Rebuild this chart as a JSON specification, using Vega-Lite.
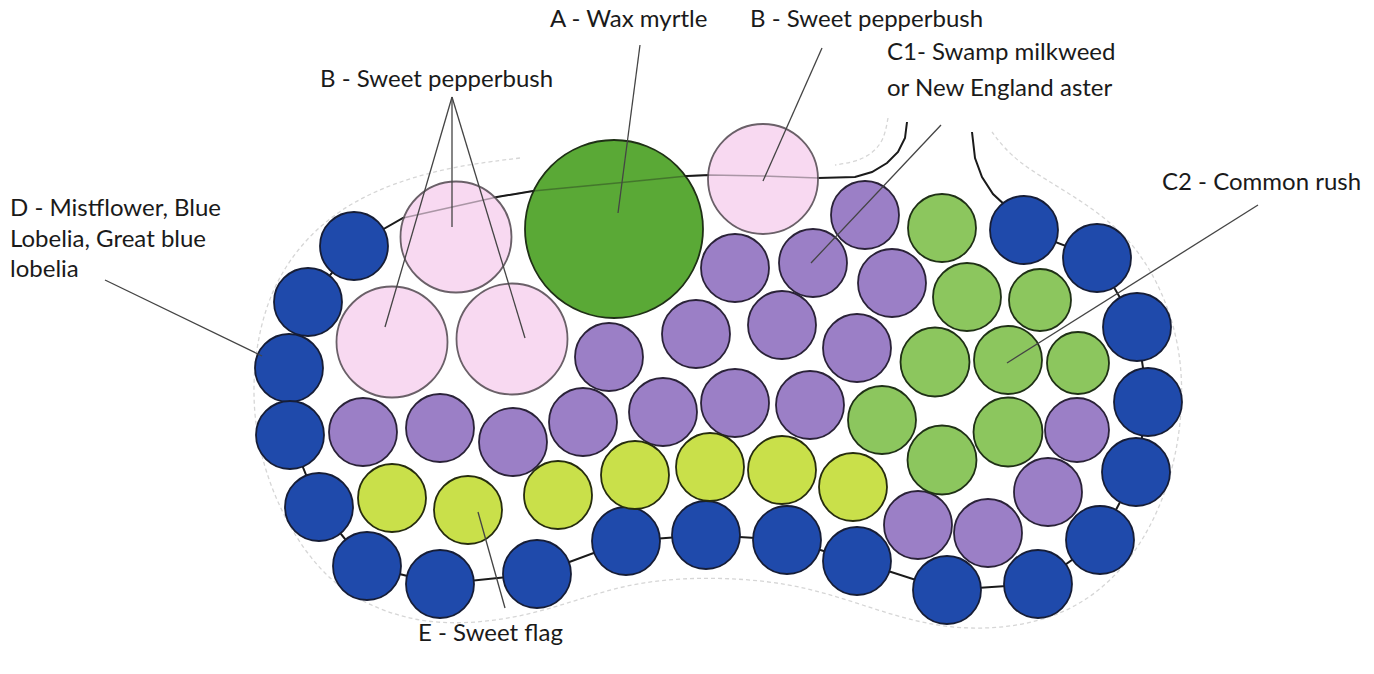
{
  "$schema": "https://vega.github.io/schema/vega-lite/v6.json",
  "width": 1374,
  "height": 674,
  "autosize": "none",
  "padding": 0,
  "background": "white",
  "config": {"view": {"stroke": null}},
  "datasets": {
    "circles": [
      {"x": 354, "y": 246, "d": 68, "plant": "D"},
      {"x": 308, "y": 302, "d": 68, "plant": "D"},
      {"x": 289, "y": 368, "d": 68, "plant": "D"},
      {"x": 290, "y": 435, "d": 68, "plant": "D"},
      {"x": 319, "y": 507, "d": 68, "plant": "D"},
      {"x": 367, "y": 566, "d": 68, "plant": "D"},
      {"x": 440, "y": 584, "d": 68, "plant": "D"},
      {"x": 537, "y": 574, "d": 68, "plant": "D"},
      {"x": 626, "y": 541, "d": 68, "plant": "D"},
      {"x": 706, "y": 535, "d": 68, "plant": "D"},
      {"x": 787, "y": 540, "d": 68, "plant": "D"},
      {"x": 857, "y": 561, "d": 68, "plant": "D"},
      {"x": 947, "y": 590, "d": 68, "plant": "D"},
      {"x": 1038, "y": 584, "d": 68, "plant": "D"},
      {"x": 1100, "y": 540, "d": 68, "plant": "D"},
      {"x": 1136, "y": 472, "d": 68, "plant": "D"},
      {"x": 1148, "y": 402, "d": 68, "plant": "D"},
      {"x": 1137, "y": 327, "d": 68, "plant": "D"},
      {"x": 1097, "y": 258, "d": 68, "plant": "D"},
      {"x": 1024, "y": 230, "d": 68, "plant": "D"},
      {"x": 456, "y": 237, "d": 111, "plant": "B"},
      {"x": 392, "y": 342, "d": 111, "plant": "B"},
      {"x": 512, "y": 339, "d": 111, "plant": "B"},
      {"x": 763, "y": 179, "d": 110, "plant": "B"},
      {"x": 614, "y": 229, "d": 178, "plant": "A"},
      {"x": 865, "y": 215, "d": 68, "plant": "C1"},
      {"x": 735, "y": 268, "d": 68, "plant": "C1"},
      {"x": 813, "y": 263, "d": 68, "plant": "C1"},
      {"x": 892, "y": 283, "d": 68, "plant": "C1"},
      {"x": 609, "y": 357, "d": 68, "plant": "C1"},
      {"x": 696, "y": 334, "d": 68, "plant": "C1"},
      {"x": 782, "y": 325, "d": 68, "plant": "C1"},
      {"x": 857, "y": 348, "d": 68, "plant": "C1"},
      {"x": 363, "y": 432, "d": 68, "plant": "C1"},
      {"x": 440, "y": 428, "d": 68, "plant": "C1"},
      {"x": 513, "y": 442, "d": 68, "plant": "C1"},
      {"x": 583, "y": 422, "d": 68, "plant": "C1"},
      {"x": 663, "y": 412, "d": 68, "plant": "C1"},
      {"x": 735, "y": 403, "d": 68, "plant": "C1"},
      {"x": 810, "y": 405, "d": 68, "plant": "C1"},
      {"x": 918, "y": 525, "d": 68, "plant": "C1"},
      {"x": 988, "y": 533, "d": 68, "plant": "C1"},
      {"x": 1048, "y": 492, "d": 68, "plant": "C1"},
      {"x": 1077, "y": 430, "d": 64, "plant": "C1"},
      {"x": 942, "y": 228, "d": 68, "plant": "C2"},
      {"x": 967, "y": 297, "d": 68, "plant": "C2"},
      {"x": 1040, "y": 300, "d": 62, "plant": "C2"},
      {"x": 935, "y": 362, "d": 69, "plant": "C2"},
      {"x": 1008, "y": 360, "d": 68, "plant": "C2"},
      {"x": 1078, "y": 363, "d": 62, "plant": "C2"},
      {"x": 882, "y": 420, "d": 68, "plant": "C2"},
      {"x": 942, "y": 460, "d": 69, "plant": "C2"},
      {"x": 1008, "y": 432, "d": 69, "plant": "C2"},
      {"x": 392, "y": 498, "d": 68, "plant": "E"},
      {"x": 468, "y": 510, "d": 68, "plant": "E"},
      {"x": 558, "y": 495, "d": 68, "plant": "E"},
      {"x": 635, "y": 475, "d": 68, "plant": "E"},
      {"x": 710, "y": 467, "d": 68, "plant": "E"},
      {"x": 782, "y": 470, "d": 68, "plant": "E"},
      {"x": 853, "y": 487, "d": 68, "plant": "E"}
    ],
    "outline": [
      {"i": 1, "x": 907, "y": 122, "seg": "hook"},
      {"i": 2, "x": 905, "y": 138, "seg": "hook"},
      {"i": 3, "x": 898, "y": 152, "seg": "hook"},
      {"i": 4, "x": 887, "y": 163, "seg": "hook"},
      {"i": 5, "x": 872, "y": 172, "seg": "hook"},
      {"i": 6, "x": 855, "y": 177, "seg": "hook"},
      {"i": 7, "x": 818, "y": 178, "seg": "top"},
      {"i": 8, "x": 763, "y": 176, "seg": "top"},
      {"i": 9, "x": 710, "y": 175, "seg": "top"},
      {"i": 10, "x": 687, "y": 176, "seg": "top"},
      {"i": 11, "x": 617, "y": 183, "seg": "top"},
      {"i": 12, "x": 533, "y": 191, "seg": "top"},
      {"i": 13, "x": 497, "y": 197, "seg": "top"},
      {"i": 14, "x": 403, "y": 218, "seg": "top"},
      {"i": 15, "x": 354, "y": 246, "seg": "ring"},
      {"i": 16, "x": 308, "y": 302, "seg": "ring"},
      {"i": 17, "x": 289, "y": 368, "seg": "ring"},
      {"i": 18, "x": 290, "y": 435, "seg": "ring"},
      {"i": 19, "x": 319, "y": 507, "seg": "ring"},
      {"i": 20, "x": 367, "y": 566, "seg": "ring"},
      {"i": 21, "x": 440, "y": 584, "seg": "ring"},
      {"i": 22, "x": 537, "y": 574, "seg": "ring"},
      {"i": 23, "x": 626, "y": 541, "seg": "ring"},
      {"i": 24, "x": 706, "y": 535, "seg": "ring"},
      {"i": 25, "x": 787, "y": 540, "seg": "ring"},
      {"i": 26, "x": 857, "y": 561, "seg": "ring"},
      {"i": 27, "x": 947, "y": 590, "seg": "ring"},
      {"i": 28, "x": 1038, "y": 584, "seg": "ring"},
      {"i": 29, "x": 1100, "y": 540, "seg": "ring"},
      {"i": 30, "x": 1136, "y": 472, "seg": "ring"},
      {"i": 31, "x": 1148, "y": 402, "seg": "ring"},
      {"i": 32, "x": 1137, "y": 327, "seg": "ring"},
      {"i": 33, "x": 1097, "y": 258, "seg": "ring"},
      {"i": 34, "x": 1024, "y": 230, "seg": "ring"},
      {"i": 35, "x": 1007, "y": 207, "seg": "hook"},
      {"i": 36, "x": 993, "y": 194, "seg": "hook"},
      {"i": 37, "x": 982, "y": 177, "seg": "hook"},
      {"i": 38, "x": 975, "y": 158, "seg": "hook"},
      {"i": 39, "x": 972, "y": 132, "seg": "hook"}
    ],
    "contours": [
      {"c": "a", "i": 1, "x": 520, "y": 158},
      {"c": "a", "i": 2, "x": 455, "y": 166},
      {"c": "a", "i": 3, "x": 395, "y": 182},
      {"c": "a", "i": 4, "x": 340, "y": 208},
      {"c": "a", "i": 5, "x": 296, "y": 248},
      {"c": "a", "i": 6, "x": 266, "y": 300},
      {"c": "a", "i": 7, "x": 252, "y": 368},
      {"c": "a", "i": 8, "x": 255, "y": 440},
      {"c": "a", "i": 9, "x": 280, "y": 515},
      {"c": "a", "i": 10, "x": 328, "y": 585},
      {"c": "a", "i": 11, "x": 395, "y": 618},
      {"c": "a", "i": 12, "x": 460, "y": 626},
      {"c": "a", "i": 13, "x": 540, "y": 614},
      {"c": "a", "i": 14, "x": 620, "y": 584},
      {"c": "a", "i": 15, "x": 700, "y": 576},
      {"c": "a", "i": 16, "x": 790, "y": 582},
      {"c": "a", "i": 17, "x": 860, "y": 604},
      {"c": "a", "i": 18, "x": 945, "y": 632},
      {"c": "a", "i": 19, "x": 1045, "y": 626},
      {"c": "a", "i": 20, "x": 1118, "y": 582},
      {"c": "a", "i": 21, "x": 1168, "y": 500},
      {"c": "a", "i": 22, "x": 1186, "y": 402},
      {"c": "a", "i": 23, "x": 1176, "y": 318},
      {"c": "a", "i": 24, "x": 1136, "y": 240},
      {"c": "a", "i": 25, "x": 1075, "y": 196},
      {"c": "a", "i": 26, "x": 1015, "y": 162},
      {"c": "a", "i": 27, "x": 992, "y": 132},
      {"c": "b", "i": 1, "x": 888, "y": 118},
      {"c": "b", "i": 2, "x": 884, "y": 140},
      {"c": "b", "i": 3, "x": 872, "y": 154},
      {"c": "b", "i": 4, "x": 855, "y": 162},
      {"c": "b", "i": 5, "x": 835, "y": 165}
    ],
    "leaders": [
      {"x": 640, "y": 45, "x2": 618, "y2": 213},
      {"x": 822, "y": 48, "x2": 763, "y2": 181},
      {"x": 452, "y": 97, "x2": 452, "y2": 227},
      {"x": 452, "y": 97, "x2": 385, "y2": 327},
      {"x": 452, "y": 97, "x2": 525, "y2": 338},
      {"x": 941, "y": 125, "x2": 811, "y2": 263},
      {"x": 1258, "y": 205, "x2": 1007, "y2": 363},
      {"x": 105, "y": 280, "x2": 262, "y2": 356},
      {"x": 505, "y": 608, "x2": 478, "y2": 512}
    ],
    "labels": [
      {"x": 550, "y": 20, "text": "A - Wax myrtle"},
      {"x": 750, "y": 20, "text": "B -  Sweet pepperbush"},
      {"x": 320, "y": 80, "text": "B -  Sweet pepperbush"},
      {"x": 887, "y": 53, "text": "C1- Swamp milkweed"},
      {"x": 887, "y": 89, "text": "or New England aster"},
      {"x": 1162, "y": 183, "text": "C2 - Common rush"},
      {"x": 10, "y": 209, "text": "D - Mistflower, Blue"},
      {"x": 10, "y": 240, "text": "Lobelia, Great blue"},
      {"x": 10, "y": 270, "text": "lobelia"},
      {"x": 418, "y": 634, "text": "E - Sweet flag"}
    ]
  },
  "layer": [
    {
      "data": {"name": "contours"},
      "mark": {"type": "line", "stroke": "#d6d6d6", "strokeWidth": 1.3, "strokeDash": [4, 3], "interpolate": "basis"},
      "encoding": {
        "x": {"field": "x", "type": "quantitative", "scale": {"domain": [0, 1374], "nice": false, "zero": false}, "axis": null},
        "y": {"field": "y", "type": "quantitative", "scale": {"domain": [0, 674], "nice": false, "zero": false, "reverse": true}, "axis": null},
        "detail": {"field": "c", "type": "nominal"},
        "order": {"field": "i", "type": "quantitative"}
      }
    },
    {
      "data": {"name": "outline"},
      "mark": {"type": "line", "stroke": "#1a1a1a", "strokeWidth": 2, "interpolate": "linear"},
      "encoding": {
        "x": {"field": "x", "type": "quantitative", "axis": null},
        "y": {"field": "y", "type": "quantitative", "axis": null},
        "order": {"field": "i", "type": "quantitative"}
      }
    },
    {
      "data": {"name": "circles"},
      "mark": {"type": "point", "shape": "circle", "filled": true, "opacity": 1, "fillOpacity": 1, "strokeWidth": 1.8},
      "encoding": {
        "x": {"field": "x", "type": "quantitative", "axis": null},
        "y": {"field": "y", "type": "quantitative", "axis": null},
        "size": {"field": "d", "type": "quantitative", "scale": {"type": "pow", "exponent": 2, "domain": [0, 200], "range": [0, 40000]}, "legend": null},
        "fill": {"field": "plant", "type": "nominal", "scale": {"domain": ["A", "B", "C1", "C2", "D", "E"], "range": ["#5aa936", "#f8d9f1", "#9b7fc6", "#8cc65e", "#1f4aab", "#c9e04a"]}, "legend": null},
        "stroke": {"field": "plant", "type": "nominal", "scale": {"domain": ["A", "B", "C1", "C2", "D", "E"], "range": ["#1f3016", "#6a6068", "#2a2238", "#1f3016", "#161d36", "#262c0e"]}, "legend": null}
      }
    },
    {
      "data": {"name": "outline"},
      "transform": [{"filter": "datum.seg == 'top'"}],
      "mark": {"type": "line", "stroke": "#1a1a1a", "strokeWidth": 1.6, "opacity": 0.35, "interpolate": "linear"},
      "encoding": {
        "x": {"field": "x", "type": "quantitative", "axis": null},
        "y": {"field": "y", "type": "quantitative", "axis": null},
        "order": {"field": "i", "type": "quantitative"}
      }
    },
    {
      "data": {"name": "leaders"},
      "mark": {"type": "rule", "stroke": "#444444", "strokeWidth": 1.3},
      "encoding": {
        "x": {"field": "x", "type": "quantitative", "axis": null},
        "y": {"field": "y", "type": "quantitative", "axis": null},
        "x2": {"field": "x2"},
        "y2": {"field": "y2"}
      }
    },
    {
      "data": {"name": "labels"},
      "mark": {"type": "text", "align": "left", "baseline": "middle", "font": "Lato", "fontSize": 24, "fill": "#1a1a1a"},
      "encoding": {
        "x": {"field": "x", "type": "quantitative", "axis": null},
        "y": {"field": "y", "type": "quantitative", "axis": null},
        "text": {"field": "text", "type": "nominal"}
      }
    }
  ]
}
